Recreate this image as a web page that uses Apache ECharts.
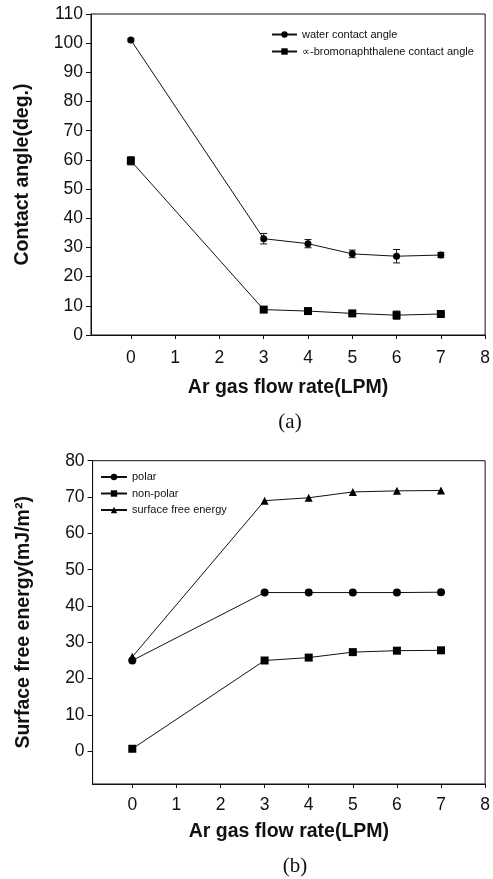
<!DOCTYPE html>
<html>
<head>
<meta charset="utf-8">
<script src="https://cdn.jsdelivr.net/npm/echarts@6/dist/echarts.min.js"></script>
<style>
  html, body { margin: 0; padding: 0; background: #fff; }
  #chart { width: 493px; height: 879px; }
</style>
</head>
<body>
<div id="chart"></div>
<script>
// shared x values (Ar gas flow rate, LPM)
const flowRates = [0, 3, 4, 5, 6, 7];

// (a) contact angles
const waterAngle = [101.1, 33.0, 31.3, 27.8, 27.0, 27.4];
const waterErr = [0.5, 1.8, 1.4, 1.3, 2.3, 0.9];
const bromoAngle = [59.7, 8.7, 8.2, 7.4, 6.8, 7.2];
const bromoErr = [1.4, 0.9, 0.7, 0.5, 1.4, 0.5];

// (b) surface free energy
const polarEnergy = [25.0, 43.7, 43.7, 43.7, 43.7, 43.8];
const nonPolarEnergy = [0.7, 25.0, 25.8, 27.3, 27.7, 27.8];
const totalEnergy = [26.0, 69.0, 69.8, 71.4, 71.7, 71.8];

// tick labels
const xTicks = [0, 1, 2, 3, 4, 5, 6, 7, 8];
const yTicksA = [0, 10, 20, 30, 40, 50, 60, 70, 80, 90, 100, 110];
const yTicksB = [0, 10, 20, 30, 40, 50, 60, 70, 80];

const FONT = "'Liberation Sans', Arial, sans-serif";
const INK = "#111";

function pairs(ys) {
  return flowRates.map((x, i) => [x, ys[i]]);
}

function errorData(ys, errs) {
  return flowRates.map((x, i) => [x, ys[i] - errs[i], ys[i] + errs[i]]);
}

function renderErrorBar(params, api) {
  const low = api.coord([api.value(0), api.value(1)]);
  const high = api.coord([api.value(0), api.value(2)]);
  const cap = 3.5;
  const style = { stroke: INK, lineWidth: 1 };
  return {
    type: "group",
    children: [
      { type: "line", shape: { x1: low[0], y1: low[1], x2: high[0], y2: high[1] }, style },
      { type: "line", shape: { x1: low[0] - cap, y1: low[1], x2: low[0] + cap, y2: low[1] }, style },
      { type: "line", shape: { x1: high[0] - cap, y1: high[1], x2: high[0] + cap, y2: high[1] }, style },
    ],
  };
}

function makeXAxis(gridIndex, labelMargin, nameGap) {
  return {
    type: "value",
    gridIndex,
    min: -0.9,
    max: 8,
    axisLine: { show: true, onZero: false, lineStyle: { color: INK, width: 1 } },
    axisTick: { show: true, inside: false, length: 4, customValues: xTicks, lineStyle: { color: INK } },
    axisLabel: { customValues: xTicks, color: INK, fontSize: 17.5, fontFamily: FONT, margin: labelMargin },
    splitLine: { show: false },
    name: "Ar gas flow rate(LPM)",
    nameLocation: "middle",
    nameGap,
    nameTextStyle: { color: INK, fontSize: 19.5, fontWeight: "bold", fontFamily: FONT },
  };
}

function makeYAxis(gridIndex, min, max, ticks, name, nameGap) {
  return {
    type: "value",
    gridIndex,
    min,
    max,
    axisLine: { show: true, onZero: false, lineStyle: { color: INK, width: 1 } },
    axisTick: { show: true, inside: false, length: 5, customValues: ticks, lineStyle: { color: INK } },
    axisLabel: { customValues: ticks, color: INK, fontSize: 17.5, fontFamily: FONT, margin: 8 },
    splitLine: { show: false },
    name,
    nameLocation: "middle",
    nameGap,
    nameTextStyle: { color: INK, fontSize: 19.5, fontWeight: "bold", fontFamily: FONT },
  };
}

function lineSeries(name, ys, symbol, size, xi) {
  return {
    name,
    type: "line",
    xAxisIndex: xi,
    yAxisIndex: xi,
    data: pairs(ys),
    symbol,
    symbolSize: size,
    showSymbol: true,
    lineStyle: { color: INK, width: 1 },
    itemStyle: { color: "#000" },
    emphasis: { disabled: true },
    z: 3,
  };
}

function errorSeries(ys, errs, xi) {
  return {
    type: "custom",
    xAxisIndex: xi,
    yAxisIndex: xi,
    data: errorData(ys, errs),
    renderItem: renderErrorBar,
    encode: { x: 0, y: [1, 2] },
    z: 2,
  };
}

const legendText = { color: INK, fontSize: 11, fontFamily: FONT };

const chart = echarts.init(document.getElementById("chart"));
chart.setOption({
  backgroundColor: "#fff",
  animation: false,
  grid: [
    { left: 91, top: 14, width: 394.7, height: 321, show: true, borderColor: INK, borderWidth: 1 },
    { left: 92.6, top: 460.7, width: 397, height: 323.3, show: true, borderColor: INK, borderWidth: 1 },
  ],
  xAxis: [makeXAxis(0, 14, 43), makeXAxis(1, 12.5, 38)],
  yAxis: [
    makeYAxis(0, 0, 110, yTicksA, "Contact angle(deg.)", 58),
    makeYAxis(1, -9, 80, yTicksB, "Surface free energy(mJ/m²)", 59),
  ],
  legend: [
    {
      data: ["water contact angle", "∝-bromonaphthalene contact angle"],
      orient: "vertical",
      left: 271,
      top: 29,
      padding: 0,
      itemWidth: 25,
      itemHeight: 8,
      itemGap: 6,
      textStyle: legendText,
      selectedMode: false,
    },
    {
      data: ["polar", "non-polar", "surface free energy"],
      orient: "vertical",
      left: 100,
      top: 471.5,
      padding: 0,
      itemWidth: 26,
      itemHeight: 8,
      itemGap: 5.5,
      textStyle: legendText,
      selectedMode: false,
    },
  ],
  graphic: [
    { type: "text", x: 290, y: 422, style: { text: "(a)", font: "21px 'Liberation Serif', serif", fill: INK, align: "center", verticalAlign: "middle" } },
    { type: "text", x: 295, y: 866, style: { text: "(b)", font: "21px 'Liberation Serif', serif", fill: INK, align: "center", verticalAlign: "middle" } },
  ],
  series: [
    errorSeries(waterAngle, waterErr, 0),
    errorSeries(bromoAngle, bromoErr, 0),
    lineSeries("water contact angle", waterAngle, "circle", 7, 0),
    lineSeries("∝-bromonaphthalene contact angle", bromoAngle, "rect", 8, 0),
    lineSeries("polar", polarEnergy, "circle", 8, 1),
    lineSeries("non-polar", nonPolarEnergy, "rect", 8, 1),
    lineSeries("surface free energy", totalEnergy, "triangle", 8, 1),
  ],
});
</script>
</body>
</html>
